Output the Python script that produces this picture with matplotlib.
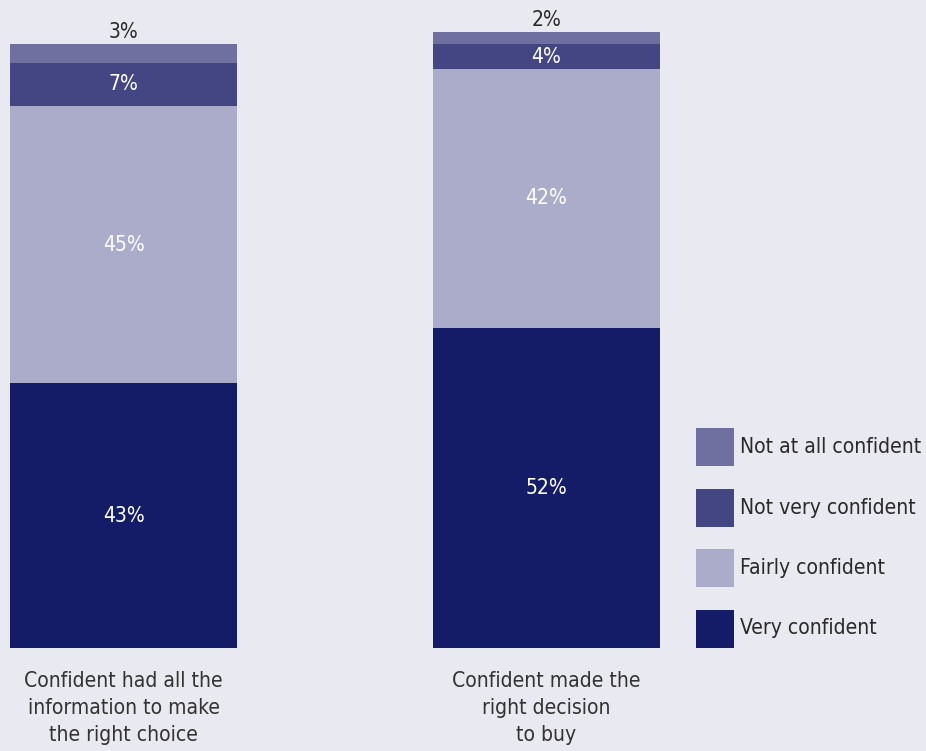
import matplotlib.pyplot as plt
from matplotlib.patches import Rectangle

plt.rcParams['font.family'] = ['DejaVu Sans']
plt.rcParams['font.stretch'] = 'condensed'

categories = ['Confident had all the\ninformation to make\nthe right choice',
              'Confident made the\nright decision\nto buy']
levels = ['Very confident', 'Fairly confident', 'Not very confident', 'Not at all confident']
very = [43, 52]
fairly = [45, 42]
not_very = [7, 4]
not_at_all = [3, 2]
series = [very, fairly, not_very, not_at_all]
colors = ['#141c68', '#abacca', '#434682', '#7070a0']

bg = '#e9e9f2'
fs = 15.1
fig = plt.figure(figsize=(9.26, 7.51), dpi=100, facecolor=bg)
ax = fig.add_axes([0, 0.1372, 1, 0.8202])
ax.set_facecolor(bg)

x = [0, 1]
width = 0.5366
bottoms = [0, 0]
for vals, col in zip(series, colors):
    ax.bar(x, vals, width, bottom=bottoms, color=col, linewidth=0)
    for i, v in enumerate(vals):
        if col == colors[-1]:
            ax.text(x[i], bottoms[i] + v + 0.3, f'{v}%', ha='center', va='bottom',
                    color='#2a2a2a', fontsize=fs)
        else:
            ax.text(x[i], bottoms[i] + v / 2, f'{v}%', ha='center', va='center',
                    color='white', fontsize=fs)
    bottoms = [b + v for b, v in zip(bottoms, vals)]

ax.set_xlim(-0.292, 1.897)
ax.set_ylim(0, 100)
ax.axis('off')

# category labels under the bars
for i, lab in enumerate(categories):
    ax.text(x[i], -3.8, lab, ha='center', va='top', color='#333333',
            fontsize=fs, linespacing=1.42)

# legend, top entry first
W, H = 926, 751
for k, (lab, col) in enumerate(zip(levels[::-1], colors[::-1])):
    top = 428 + k * 60.5
    fig.add_artist(Rectangle((696 / W, 1 - (top + 38) / H), 38 / W, 38 / H,
                             transform=fig.transFigure, color=col, lw=0))
    fig.text(740 / W, 1 - (top + 19) / H, lab, ha='left', va='center',
             color='#2a2a2a', fontsize=fs)

fig.savefig('out.png', dpi=100, facecolor=bg)
